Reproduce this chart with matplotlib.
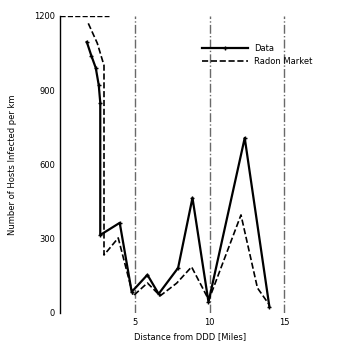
import numpy as np
import matplotlib
matplotlib.use("Agg")
import matplotlib.pyplot as plt

# values
data_x = [1.8, 2.1, 2.4, 2.6, 2.7, 2.7, 4.0, 4.8, 5.85, 6.6, 7.9, 8.86, 9.93, 12.35, 14.0]
data_y = [1095, 1040, 990, 920, 850, 315, 364, 85, 154, 77, 182, 465, 44, 707, 24]

model_x = [1.9, 2.5, 2.95, 2.95, 3.9, 4.9, 5.85, 6.7, 7.8, 8.8, 9.5, 9.95, 12.1, 13.2, 14.0]
model_y = [1170, 1090, 1000, 234, 303, 69, 121, 69, 120, 186, 105, 52, 396, 101, 32]

x_ticks = [5, 10, 15]
y_ticks = [0, 300, 600, 900, 1200]


def main():
    fig = plt.figure(figsize=(3.52, 3.54), dpi=100)
    ax = fig.add_axes([0.17, 0.116, 0.74, 0.839])

    ax.plot(data_x, data_y, color="black", lw=1.6, marker="+", ms=2.5, label="Data")
    ax.plot(model_x, model_y, color="black", lw=1.2, ls="--", label="Radon Market")

    ax.set_xlim(0, 17.4)
    ax.set_ylim(0, 1200)
    ax.set_xticks(x_ticks)
    ax.set_yticks(y_ticks)
    ax.tick_params(labelsize=6, length=0)

    for s in ["top", "right", "bottom"]:
        ax.spines[s].set_visible(False)
    ax.spines["left"].set_linewidth(1.0)
    ax.grid(axis="x", ls="-.", color="dimgray", lw=1.0)
    ax.axhline(1200, xmin=0, xmax=0.19, ls="--", color="black", lw=1.0)

    ax.set_xlabel("Distance from DDD [Miles]", fontsize=6)
    ax.set_ylabel("Number of Hosts Infected per km", fontsize=6, labelpad=12)
    ax.legend(loc="upper right", bbox_to_anchor=(1.0, 0.93), frameon=False,
              fontsize=6, handlelength=5.5)

    fig.savefig("out.png", dpi=100)


if __name__ == "__main__":
    main()
